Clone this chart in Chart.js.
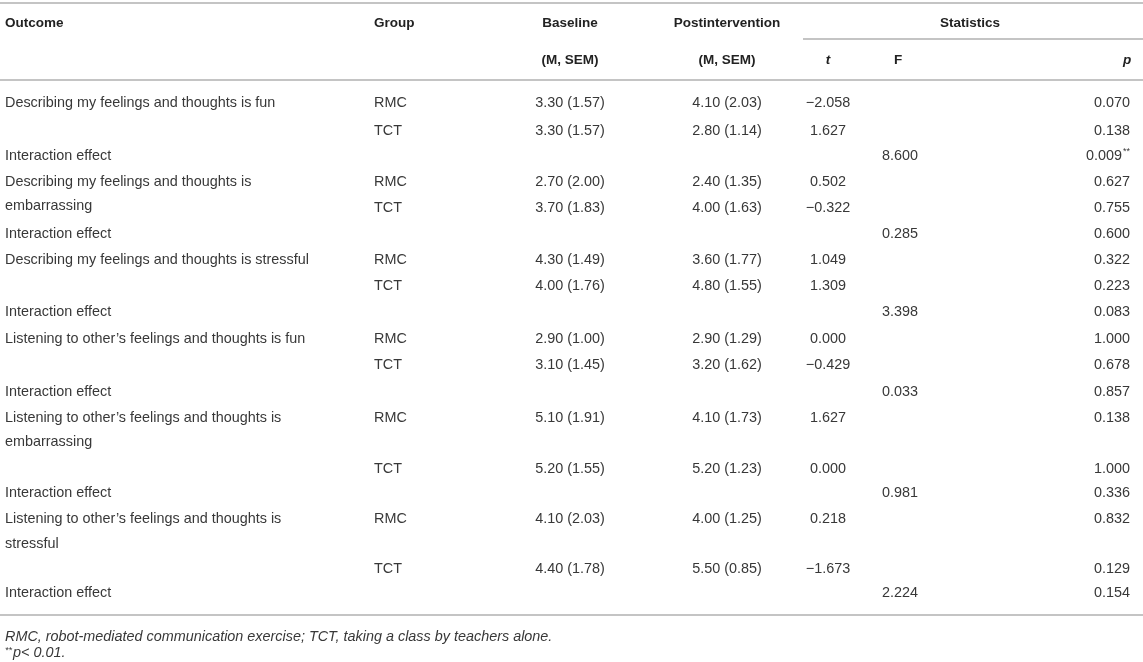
<!DOCTYPE html>
<html>
<head>
<meta charset="utf-8">
<script src="https://cdn.jsdelivr.net/npm/chart.js@4.4.1/dist/chart.umd.min.js"></script>
<style>
  html, body { margin: 0; padding: 0; background: #fff; }
  .wrap { width: 1143px; height: 662px; position: relative; }
</style>
</head>
<body>
<div class="wrap"><canvas id="table"></canvas></div>
<script>
// table values
const outcomes = [
  'Describing my feelings and thoughts is fun',
  'Describing my feelings and thoughts is embarrassing',
  'Describing my feelings and thoughts is stressful',
  'Listening to other\u2019s feelings and thoughts is fun',
  'Listening to other\u2019s feelings and thoughts is embarrassing',
  'Listening to other\u2019s feelings and thoughts is stressful',
];
const groups = ['RMC', 'TCT'];

const baseRMC = [3.30, 2.70, 4.30, 2.90, 5.10, 4.10];
const baseRMCsem = [1.57, 2.00, 1.49, 1.00, 1.91, 2.03];
const baseTCT = [3.30, 3.70, 4.00, 3.10, 5.20, 4.40];
const baseTCTsem = [1.57, 1.83, 1.76, 1.45, 1.55, 1.78];

const postRMC = [4.10, 2.40, 3.60, 2.90, 4.10, 4.00];
const postRMCsem = [2.03, 1.35, 1.77, 1.29, 1.73, 1.25];
const postTCT = [2.80, 4.00, 4.80, 3.20, 5.20, 5.50];
const postTCTsem = [1.14, 1.63, 1.55, 1.62, 1.23, 0.85];

const tRMC = [-2.058, 0.502, 1.049, 0.000, 1.627, 0.218];
const pRMC = [0.070, 0.627, 0.322, 1.000, 0.138, 0.832];
const tTCT = [1.627, -0.322, 1.309, -0.429, 0.000, -1.673];
const pTCT = [0.138, 0.755, 0.223, 0.678, 1.000, 0.129];

const fInteraction = [8.600, 0.285, 3.398, 0.033, 0.981, 2.224];
const pInteraction = [0.009, 0.600, 0.083, 0.857, 0.336, 0.154];

const footnote = 'RMC, robot-mediated communication exercise; TCT, taking a class by teachers alone.';

// layout: row slots for each block
const rmcRow = [0, 3.05, 6.1, 9.15, 12.2, 16.12];
const tctRow = [1.08, 4.07, 7.1, 10.16, 14.18, 18.06];
const ieRow = [2.05, 5.08, 8.1, 11.2, 15.12, 19];
const wrapStep = 0.96;

const FONT = '"Liberation Sans", Arial, Helvetica, sans-serif';
const BODY = 14.4;
const HEAD = 13.5;
const TEXT = '#383838';
const RULE = '#c4c4c4';

const fmtMS = (m, s) => m.toFixed(2) + ' (' + s.toFixed(2) + ')';
const fmtT = v => (v < 0 ? '\u2212' : '') + Math.abs(v).toFixed(3);
const fmtP = v => v.toFixed(3) + (v < 0.01 ? '**' : '');

// wrap outcome labels to the column width
const measure = document.createElement('canvas').getContext('2d');
measure.font = BODY + 'px ' + FONT;
function wrap(text, maxW) {
  const words = text.split(' ');
  const lines = [];
  let cur = '';
  words.forEach(w => {
    const test = cur ? cur + ' ' + w : w;
    if (measure.measureText(test).width > maxW && cur) {
      lines.push(cur);
      cur = w;
    } else {
      cur = test;
    }
  });
  lines.push(cur);
  return lines;
}

// build one dataset per column
const col = { outcome: 5, group: 374, base: 570, post: 727, t: 828, f: 900, p: 1130 };
const cells = {
  outcome: [], group: [], base: [], post: [], t: [], f: [], p: [],
};
outcomes.forEach((o, i) => {
  wrap(o, 320).forEach((line, k) => {
    cells.outcome.push({ x: col.outcome, y: rmcRow[i] + k * wrapStep, label: line });
  });
  cells.outcome.push({ x: col.outcome, y: ieRow[i], label: 'Interaction effect' });
  cells.group.push({ x: col.group, y: rmcRow[i], label: groups[0] });
  cells.group.push({ x: col.group, y: tctRow[i], label: groups[1] });
  cells.base.push({ x: col.base, y: rmcRow[i], label: fmtMS(baseRMC[i], baseRMCsem[i]) });
  cells.base.push({ x: col.base, y: tctRow[i], label: fmtMS(baseTCT[i], baseTCTsem[i]) });
  cells.post.push({ x: col.post, y: rmcRow[i], label: fmtMS(postRMC[i], postRMCsem[i]) });
  cells.post.push({ x: col.post, y: tctRow[i], label: fmtMS(postTCT[i], postTCTsem[i]) });
  cells.t.push({ x: col.t, y: rmcRow[i], label: fmtT(tRMC[i]) });
  cells.t.push({ x: col.t, y: tctRow[i], label: fmtT(tTCT[i]) });
  cells.f.push({ x: col.f, y: ieRow[i], label: fInteraction[i].toFixed(3) });
  cells.p.push({ x: col.p, y: rmcRow[i], label: fmtP(pRMC[i]) });
  cells.p.push({ x: col.p, y: tctRow[i], label: fmtP(pTCT[i]) });
  cells.p.push({ x: col.p, y: ieRow[i], label: fmtP(pInteraction[i]) });
});

const aligns = { outcome: 'left', group: 'left', base: 'center', post: 'center', t: 'center', f: 'center', p: 'right' };
const datasets = Object.keys(cells).map(k => ({
  label: k,
  data: cells[k],
  align: aligns[k],
  pointRadius: 0,
  pointHoverRadius: 0,
}));

// draws text with a trailing ** as small superscript
function drawText(ctx, text, x, y, align, style, size) {
  let main = text, sup = '';
  if (text.endsWith('**')) { main = text.slice(0, -2); sup = '**'; }
  const font = style + ' ' + size + 'px ' + FONT;
  const supFont = style + ' ' + Math.round(size * 0.65) + 'px ' + FONT;
  ctx.font = font;
  const mw = ctx.measureText(main).width;
  ctx.font = supFont;
  const sw = sup ? ctx.measureText(sup).width + 1 : 0;
  let left = x;
  if (align === 'center') left = x - (mw + sw) / 2;
  else if (align === 'right') left = x - mw - sw;
  ctx.textAlign = 'left';
  ctx.font = font;
  ctx.fillText(main, left, y);
  if (sup) {
    ctx.font = supFont;
    ctx.fillText(sup, left + mw + 1, y - 4);
  }
}

const tablePlugin = {
  id: 'tablePlugin',
  afterDatasetsDraw(chart) {
    const { ctx, scales: { x, y } } = chart;
    ctx.save();
    ctx.textBaseline = 'middle';

    // rules
    ctx.strokeStyle = RULE;
    ctx.lineWidth = 2;
    const hline = (v, x0, x1) => {
      const py = Math.round(y.getPixelForValue(v));
      ctx.beginPath();
      ctx.moveTo(x.getPixelForValue(x0), py);
      ctx.lineTo(x.getPixelForValue(x1), py);
      ctx.stroke();
    };
    hline(-3.88, 0, 1143);
    hline(-2.48, 803, 1143);
    hline(-0.89, 0, 1143);
    hline(19.85, 0, 1143);

    // header
    ctx.fillStyle = '#222';
    const h1 = -3.1, h2 = -1.67;
    const head = (txt, cx, row, align, style) =>
      drawText(ctx, txt, x.getPixelForValue(cx), y.getPixelForValue(row), align, style, HEAD);
    head('Outcome', col.outcome, h1, 'left', 'bold');
    head('Group', col.group, h1, 'left', 'bold');
    head('Baseline', col.base, h1, 'center', 'bold');
    head('Postintervention', col.post, h1, 'center', 'bold');
    head('Statistics', 970, h1, 'center', 'bold');
    head('(M, SEM)', col.base, h2, 'center', 'bold');
    head('(M, SEM)', col.post, h2, 'center', 'bold');
    head('t', col.t, h2, 'center', 'italic bold');
    head('F', 898, h2, 'center', 'bold');
    head('p', 1127, h2, 'center', 'italic bold');

    // body cells from the datasets
    ctx.fillStyle = TEXT;
    chart.data.datasets.forEach((ds, i) => {
      chart.getDatasetMeta(i).data.forEach((pt, j) => {
        drawText(ctx, ds.data[j].label, pt.x, pt.y, ds.align, 'normal', BODY);
      });
    });

    // footnotes
    const fx = x.getPixelForValue(5);
    drawText(ctx, footnote, fx, y.getPixelForValue(20.7), 'left', 'italic', BODY);
    const fy = y.getPixelForValue(21.32);
    ctx.font = 'italic 9px ' + FONT;
    ctx.textAlign = 'left';
    ctx.fillText('**', fx, fy - 3);
    const sw = ctx.measureText('**').width;
    ctx.font = 'italic ' + BODY + 'px ' + FONT;
    ctx.fillText('p< 0.01.', fx + sw + 1, fy);
    ctx.restore();
  },
};

new Chart(document.querySelector('#table').getContext('2d'), {
  type: 'scatter',
  data: { datasets },
  options: {
    responsive: true,
    maintainAspectRatio: false,
    animation: false,
    events: [],
    layout: { padding: 0 },
    plugins: { legend: { display: false }, tooltip: { enabled: false } },
    scales: {
      x: { type: 'linear', min: 0, max: 1143, display: false },
      y: { type: 'linear', min: -3.9922, max: 21.667, reverse: true, display: false },
    },
  },
  plugins: [tablePlugin],
});
</script>
</body>
</html>
